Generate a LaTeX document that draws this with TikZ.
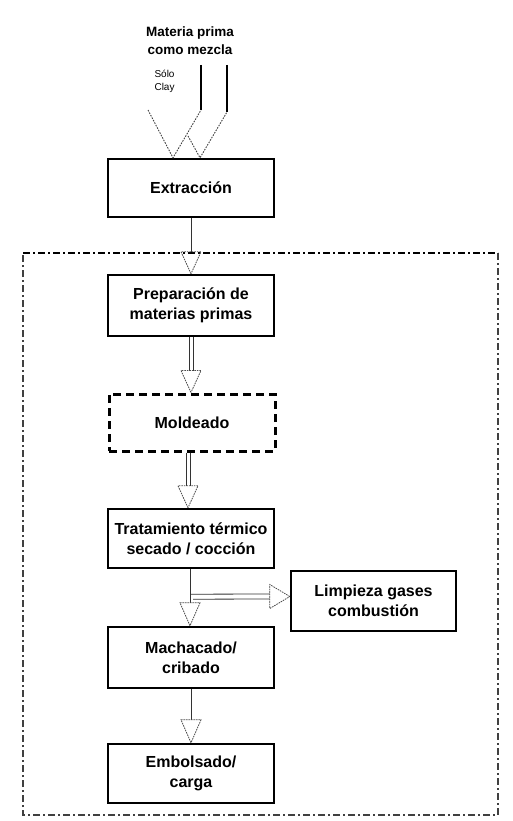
\documentclass[tikz,border=0pt]{standalone}
\usepackage{fontspec}
\setmainfont{Liberation Sans}
\usetikzlibrary{calc}
\begin{document}
\begin{tikzpicture}[x=1pt,y=-1pt,
  box/.style={draw=black,line width=2.4pt,fill=white,minimum width=166pt,
    align=center,inner sep=2pt,
    font=\bfseries\fontsize{16}{20}\selectfont},
  optbox/.style={box,dash pattern=on 8pt off 5pt,line width=3pt},
  shaft/.style={draw=black!80,line width=0.8pt},
  head/.style={draw=black!70,line width=0.8pt,dash pattern=on 1.6pt off 0.9pt},
  frame/.style={draw=black!75,line width=1.3pt,dash pattern=on 7pt off 3pt on 2pt off 3pt},
  frametop/.style={frame,draw=black,line width=2pt},
  feed/.style={draw=black,line width=1.2pt},
  feedhead/.style={draw=black!75,line width=0.9pt,dash pattern=on 1.6pt off 1.2pt}]
\useasboundingbox (0,0) rectangle (513,821);

% plant boundary: heavier upper edge, lighter sides and bottom
\coordinate (bTL) at (23,253);
\coordinate (bTR) at (498,253);
\coordinate (bBR) at (498,815);
\coordinate (bBL) at (23,815);
\draw[frame] (bTR) -- (bBR) -- (bBL) -- (bTL);
\draw[frametop] (bTL) -- (bTR);

% process steps
\node[box,minimum height=58pt] (ext) at (191,188) {Extracción};
\node[box,minimum height=61pt] (prep) at (191,305.5) {Preparación de\\materias primas};
\node[optbox,minimum height=57pt] (mold) at (192,422.5) {Moldeado};
\node[box,minimum height=59pt] (trat) at (191,538.5) {Tratamiento térmico\\secado / cocción};
\node[box,minimum height=60pt,minimum width=165pt] (limp) at (373.5,601) {Limpieza gases\\combustión};
\node[box,minimum height=61pt] (mach) at (191,657.5) {Machacado/\\cribado};
\node[box,minimum height=59pt] (emb) at (191,773.5) {Embolsado/\\carga};

% raw material feed
\node[font=\bfseries\fontsize{13.5}{18}\selectfont,align=center] (feedtxt) at (190,41)
  {Materia prima\\como mezcla};
\node[font=\fontsize{10}{13}\selectfont,align=left,anchor=west] (feednote) at (151,81.5)
  {Sólo\\Clay};
\coordinate (fa0) at (201,65);
\coordinate (fa1) at (201,110);
\coordinate (fb0) at (227,65);
\coordinate (fb1) at (227,112);
\coordinate (tipA) at ($(ext.north)+(-18,0)$);
\coordinate (tipB) at ($(ext.north)+(9,0)$);
\draw[feed] (fa0) -- (fa1);
\draw[feed] (fb0) -- (fb1);
\draw[feedhead] (148,110) -- (tipA) -- (fa1);
\draw[feedhead] (188,136) -- (tipB) -- (fb1);

% flow arrows between the steps (double shafts are two thin parallel lines)
\draw[shaft] (ext.south) -- ($(prep.north)+(0,-22)$);
\draw[head] (prep.north) -- ++(-10,-22) -- ++(20,0) -- cycle;

\draw[shaft] ($(prep.south)+(-2,0)$) -- ($(mold.north)+(-3,-22)$);
\draw[shaft] ($(prep.south)+(2,0)$) -- ($(mold.north)+(1,-22)$);
\draw[head] ($(mold.north)+(-1,0)$) -- ++(-10,-22) -- ++(20,0) -- cycle;

\draw[shaft] ($(mold.south)+(-6,0)$) -- ($(trat.north)+(-5,-22)$);
\draw[shaft] ($(mold.south)+(-2,0)$) -- ($(trat.north)+(-1,-22)$);
\draw[head] ($(trat.north)+(-3,0)$) -- ++(-10,-22) -- ++(20,0) -- cycle;

\draw[shaft] ($(trat.south)+(-1,0)$) -- ($(mach.north)+(-1,-23)$);
\draw[head] ($(mach.north)+(-1,0)$) -- ++(-10,-23) -- ++(20,0) -- cycle;

\coordinate (branch) at ($(trat.south)+(0,25)$);
\draw[shaft] (branch) -- ($(limp.west)+(-20,-7)$);
\draw[shaft] ($(branch)+(2,5)$) -- ($(limp.west)+(-20,-2)$);
\draw[head] ($(limp.west)+(0,-4.5)$) -- ++(-20,-12) -- ++(0,24) -- cycle;

\draw[shaft] (mach.south) -- ($(emb.north)+(0,-23)$);
\draw[head] (emb.north) -- ++(-10,-23) -- ++(20,0) -- cycle;
\end{tikzpicture}
\end{document}
